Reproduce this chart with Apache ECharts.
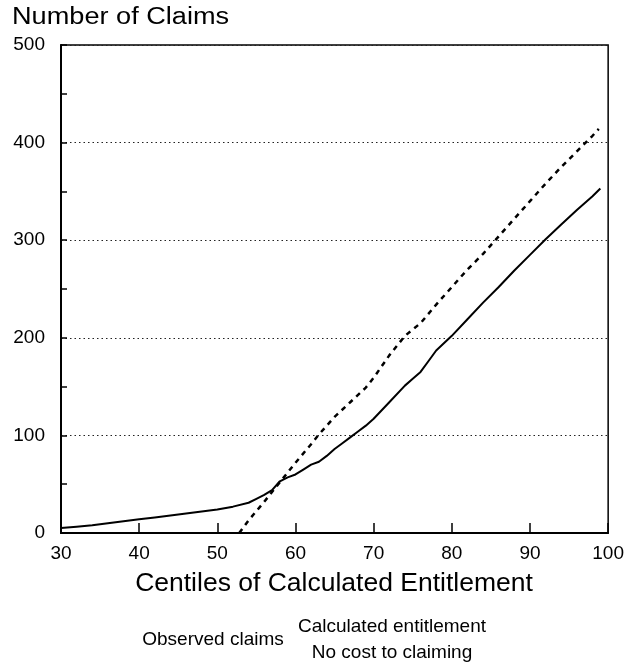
<!DOCTYPE html>
<html>
<head>
<meta charset="utf-8">
<script src="https://cdn.jsdelivr.net/npm/echarts@6/dist/echarts.min.js"></script>
<style>
html,body{margin:0;padding:0;background:#fff;}
#chart{width:627px;height:665px;}
</style>
</head>
<body>
<div id="chart"></div>
<script>
// Observed claims (solid line)
var observedX = [30,32,34,36,38,40,42,44,46,48,50,52,54,55,56,57,58,59,60,61,62,63,64,65,66,67,68,69,70,72,74,75,76,77,78,80,82,84,86,88,90,92,94,96,98,99];
var observedY = [5,6.5,8,10,12,14,16,18,20,22,24,27,31,35,39,44,53,57,60,65,70,73,79,86,92,98,104,110,117,134,151,158,165,176,187,202,219,236,252,269,285,301,316,331,345,353];
// Calculated entitlement, no cost to claiming (dashed line)
var entitlementX = [52.8,54,56,58,60,62,63,65,67,69,70,72,74,76,78,80,82,84,86,88,90,92,94,96,98,98.8];
var entitlementY = [0,13,32,52,72,91,101,119,134,149,159,182,202,215,234,252,270,286,304,322,340,358,375,391,407,414];
var xTicks = [30,40,50,60,70,80,90,100];
var yTicks = [0,100,200,300,400,500];

var chart = echarts.init(document.getElementById('chart'), null, {renderer:'canvas'});
var FONT = '"Liberation Sans", Arial, Helvetica, sans-serif';

function pairs(xs, ys){ return xs.map(function(x,i){ return [x, ys[i]]; }); }

chart.setOption({
  backgroundColor:'#fff',
  animation:false,
  grid:{left:61, right:17, top:45, bottom:132, show:true, borderColor:'#000', borderWidth:1.5},
  xAxis:{
    type:'value', min:xTicks[0], max:xTicks[xTicks.length-1], interval:10,
    axisLine:{show:true, onZero:false, lineStyle:{color:'#000', width:2}},
    axisTick:{show:true, inside:true, length:10, lineStyle:{color:'#000', width:1.5}},
    axisLabel:{color:'#000', fontFamily:FONT, fontSize:19, margin:11,
      formatter:function(v){ return xTicks.indexOf(v) >= 0 ? String(v) : ''; }},
    splitLine:{show:false}
  },
  yAxis:{
    type:'value', min:yTicks[0], max:yTicks[yTicks.length-1], interval:100,
    axisLine:{show:true, lineStyle:{color:'#000', width:2}},
    axisTick:{show:true, inside:true, length:6, lineStyle:{color:'#000', width:1.5}},
    minorTick:{show:true, splitNumber:2, length:6, lineStyle:{color:'#000', width:1.5}},
    axisLabel:{color:'#000', fontFamily:FONT, fontSize:19, margin:16, padding:[8,0,0,0],
      formatter:function(v){ return yTicks.indexOf(v) >= 0 ? String(v) : ''; }},
    splitLine:{show:true, lineStyle:{color:'#222', width:1, type:[1.5,3]}}
  },
  series:[
    {name:'Observed claims', type:'line', data:pairs(observedX, observedY), showSymbol:false, smooth:false,
      lineStyle:{color:'#000', width:2}, z:3},
    {name:'Calculated entitlement No cost to claiming', type:'line', data:pairs(entitlementX, entitlementY), showSymbol:false, smooth:false,
      lineStyle:{color:'#000', width:2.5, type:[5,5]}, z:3}
  ],
  graphic:[
    {type:'text', x:12, y:18, scaleX:1.18, style:{text:'Number of Claims', font:'23px '+FONT, fill:'#000', textAlign:'left', textVerticalAlign:'middle'}},
    {type:'text', x:334, y:584, style:{text:'Centiles of Calculated Entitlement', font:'26.5px '+FONT, fill:'#000', textAlign:'center', textVerticalAlign:'middle'}},
    {type:'text', x:213, y:640, style:{text:'Observed claims', font:'19px '+FONT, fill:'#000', textAlign:'center', textVerticalAlign:'middle'}},
    {type:'text', x:392, y:627, style:{text:'Calculated entitlement', font:'19px '+FONT, fill:'#000', textAlign:'center', textVerticalAlign:'middle'}},
    {type:'text', x:392, y:653, style:{text:'No cost to claiming', font:'19px '+FONT, fill:'#000', textAlign:'center', textVerticalAlign:'middle'}}
  ]
});
</script>
</body>
</html>
